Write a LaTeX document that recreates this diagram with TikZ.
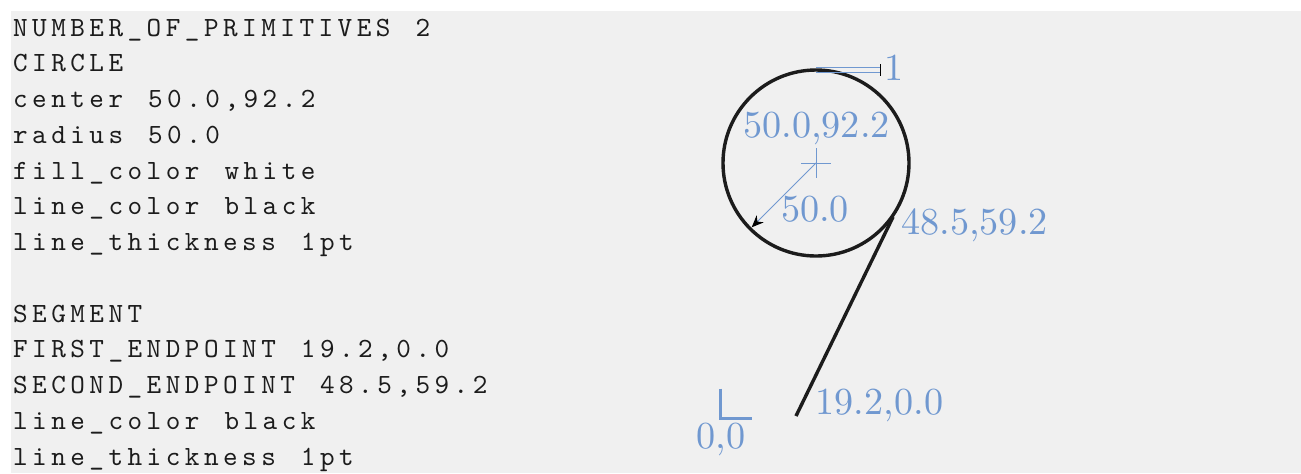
\documentclass[tikz,border=0pt]{standalone}
\usepackage{fontspec}
\usetikzlibrary{arrows.meta}
\newfontfamily\codefont{lmmono10-regular.otf}[LetterSpace=16.2,WordSpace=1.31]
\definecolor{cblue}{RGB}{112,152,208}
\definecolor{cgray}{RGB}{240,240,240}
\definecolor{cink}{RGB}{28,28,28}

\begin{document}
\begin{tikzpicture}[x=0.5pt,y=-0.5pt,
  code line/.style={anchor=base west,inner sep=0pt,text=cink,scale=1.39,transform shape,
    font={\codefont\fontsize{10}{12}\selectfont}},
  dim label/.style={inner sep=0pt,text=cblue,scale=1.91,transform shape,
    font={\fontsize{10}{12}\selectfont}},
  dim thin/.style={draw=cblue,line width=0.5pt},
  dim thick/.style={draw=cblue,line width=1.3pt},
  shape line/.style={draw=cink,line width=1.7pt}]
  \useasboundingbox (0,0) rectangle (1301,473);
  \fill[cgray] (11,11) rectangle (1301,473);

  % description file
  \foreach \txt [count=\i] in {NUMBER\_OF\_PRIMITIVES 2,
      CIRCLE,
      {center 50.0,92.2},
      radius 50.0,
      fill\_color white,
      line\_color black,
      line\_thickness 1pt,
      SEGMENT,
      {FIRST\_ENDPOINT 19.2,0.0},
      {SECOND\_ENDPOINT 48.5,59.2},
      line\_color black,
      line\_thickness 1pt}
  {
    \pgfmathsetmacro{\row}{(\i>7) ? \i : \i-1}
    \node[code line] (line\i) at (12.5,36+35.75*\row) {\txt};
  }

  % drawing
  \coordinate (ctr) at (816,163);
  \coordinate (rim) at (751.7,227.3);
  \coordinate (p1) at (796,416);
  \coordinate (p2) at (893,217);
  \coordinate (origin) at (720.5,418.5);

  \draw[shape line] (ctr) circle[radius=93];
  \draw[shape line] (p1) -- (p2);

  \draw[dim thin] (ctr) ++(-15,0) -- ++(30,0) (ctr) ++(0,-15) -- ++(0,30);
  \draw[dim thin,-{Stealth[black,length=6pt,width=5pt]}] (ctr) -- (rim);
  \draw[dim thin,-{Bar[black,width=3pt]}] (816,67.3) -- (881,67.3);
  \draw[dim thin,-{Bar[black,width=3pt]}] (816,72.7) -- (881,72.7);
  \draw[dim thick] (origin) ++(0,-30) -- (origin) -- ++(31,0);

  \node[dim label,anchor=base] (clab) at (816.5,137.3) {50.0,92.2};
  \node[dim label,anchor=base] (rlab) at (815,221.7) {50.0};
  \node[dim label,anchor=base west] (p2lab) at (900.5,234) {48.5,59.2};
  \node[dim label,anchor=base west] (p1lab) at (815,414.3) {19.2,0.0};
  \node[dim label,anchor=base west] (olab) at (696,448.3) {0,0};
  \node[dim label,anchor=base west] (wlab) at (884,80.7) {1};
\end{tikzpicture}
\end{document}
